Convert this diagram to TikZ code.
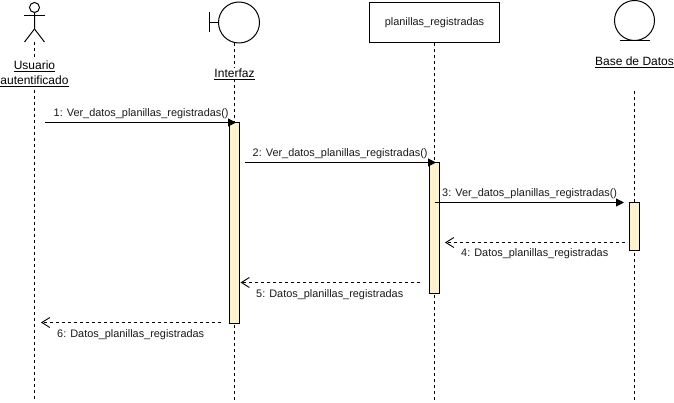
\documentclass[tikz,border=0pt]{standalone}
\usepackage{fontspec}
\setmainfont{Liberation Sans}
\usetikzlibrary{arrows.meta}
\definecolor{barfill}{HTML}{FFF2CC}
\tikzset{
  x=1pt,y=-1pt,
  shapeline/.style={draw=black,line width=1pt},
  life/.style={draw=black,line width=1pt,dash pattern=on 3pt off 3pt},
  bar/.style={draw=black,fill=barfill,line width=1pt,minimum width=10pt,inner sep=0pt,anchor=north},
  head/.style={font=\fontsize{12}{15}\selectfont,fill=white,inner sep=1pt,align=center},
  msglabel/.style={font=\fontsize{10.9}{13}\selectfont,inner sep=0pt,text=black!90,anchor=base west},
  call/.style={draw=black,line width=1pt,-{Triangle[length=8pt,width=8pt]}},
  ret/.style={draw=black,line width=1pt,dash pattern=on 3pt off 3pt,-{Straight Barb[length=8pt,width=10pt,line width=0.9pt]}}
}
\begin{document}
\begin{tikzpicture}
\useasboundingbox (0,0) rectangle (674,403);
% actor
\node[circle,draw=black,line width=1pt,minimum size=10pt,inner sep=0pt] (uhead) at (34.5,7.5) {};
\coordinate (uarmL) at (24,15.5);
\coordinate (uarmR) at (45,15.5);
\coordinate (uhip) at (34.5,29);
\coordinate (ulegL) at (24.5,42);
\coordinate (ulegR) at (44.5,42);
\draw[shapeline] (uhead.south) -- (uhip) -- (ulegL);
\draw[shapeline] (uhip) -- (ulegR);
\draw[shapeline] (uarmL) -- (uarmR);
% boundary
\node[circle,draw=black,line width=1pt,minimum size=41pt,inner sep=0pt] (ihead) at (239,22.5) {};
\coordinate (ibarT) at (209.5,12.5);
\coordinate (ibarB) at (209.5,32.5);
\coordinate (ibarM) at (209.5,22.5);
\draw[shapeline] (ibarT) -- (ibarB);
\draw[shapeline] (ibarM) -- (ihead.west);
% class box
\node[draw=black,line width=1pt,minimum width=130pt,minimum height=40pt,inner sep=0pt,font=\fontsize{10.9}{13}\selectfont,text=black!90] (phead) at (434.5,22.5) {planillas\_registradas};
% entity
\node[circle,draw=black,line width=1pt,minimum size=40pt,inner sep=0pt] (bhead) at (634.5,20.5) {};
\coordinate (bulL) at (619.5,40.5);
\coordinate (bulR) at (650,40.5);
\draw[shapeline] (bulL) -- (bulR);
% lifelines
\coordinate (ubot) at (34.5,400);
\coordinate (ibot) at (234.5,400);
\coordinate (pbot) at (434.5,400);
\coordinate (btop) at (634.5,91);
\coordinate (bbot) at (634.5,400);
\coordinate (utop) at (34.5,42);
\coordinate (itop) at (234.5,43);
\draw[life] (utop) -- (ubot);
\draw[life] (itop) -- (ibot);
\draw[life] (phead.south) -- (pbot);
\draw[life] (btop) -- (bbot);
% heads' labels
\node[head] (ulabel) at (34.5,73.5) {\underline{Usuario}\\[0pt]\underline{autentificado}};
\node[head] (ilabel) at (234.5,74) {\underline{Interfaz}};
\node[head] (blabel) at (634.5,62) {\underline{Base de Datos}};
% activations
\node[bar,minimum height=200pt] (a1) at (234.5,122.5) {};
\node[bar,minimum height=130pt] (a2) at (434.5,162.5) {};
\node[bar,minimum height=47.5pt] (a3) at (634.5,202.5) {};
% message ends
\coordinate (m1s) at (45,122.5);
\coordinate (m1e) at (236,122.5);
\coordinate (m2s) at (244.5,162.5);
\coordinate (m2e) at (436,162.5);
\coordinate (m3s) at (434.5,202.5);
\coordinate (m3e) at (624,202.5);
\coordinate (m4s) at (625,242.5);
\coordinate (m4e) at (445,242.5);
\coordinate (m5s) at (420,282.5);
\coordinate (m5e) at (240.5,282.5);
\coordinate (m6s) at (221,322.5);
\coordinate (m6e) at (41,322.5);
\draw[call] (m1s) -- (m1e);
\draw[call] (m2s) -- (m2e);
\draw[call] (m3s) -- (m3e);
\draw[ret] (m4s) -- (m4e);
\draw[ret] (m5s) -- (m5e);
\draw[ret] (m6s) -- (m6e);
% labels
\node[msglabel] (l1) at (53.5,117) {1: Ver\_datos\_planillas\_registradas()};
\node[msglabel] (l2) at (252.5,157) {2: Ver\_datos\_planillas\_registradas()};
\node[msglabel] (l3) at (442,197) {3: Ver\_datos\_planillas\_registradas()};
\node[msglabel] (l4) at (461,257) {4: Datos\_planillas\_registradas};
\node[msglabel] (l5) at (256,297) {5: Datos\_planillas\_registradas};
\node[msglabel] (l6) at (57,337) {6: Datos\_planillas\_registradas};
\end{tikzpicture}
\end{document}
